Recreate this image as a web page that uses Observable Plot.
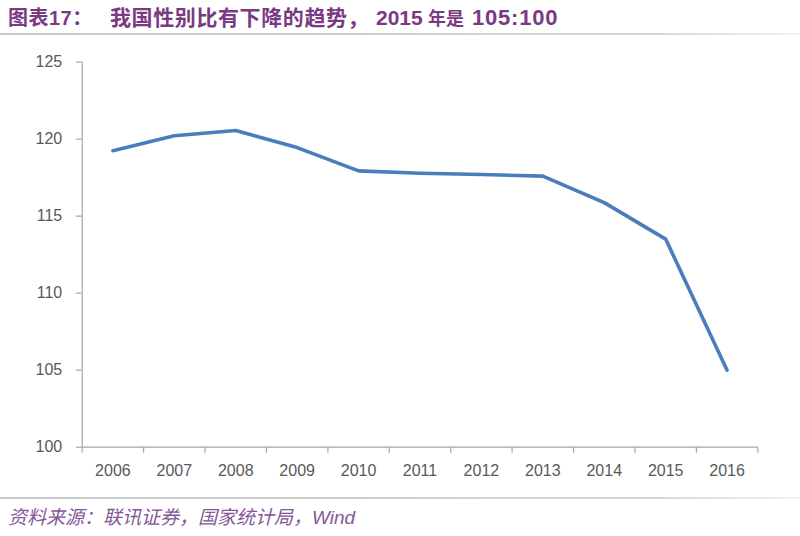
<!DOCTYPE html>
<html>
<head>
<meta charset="utf-8">
<script src="https://cdn.jsdelivr.net/npm/d3@7"></script>
<script src="https://cdn.jsdelivr.net/npm/@observablehq/plot@0.6"></script>
<style>
  html, body { margin: 0; padding: 0; background: #fff; width: 800px; height: 536px; overflow: hidden; }
  #title {
    position: absolute; left: 8px; top: 5px; width: 792px; height: 28px; line-height: 26px;
    font-family: "Liberation Sans", Arial, "Noto Sans CJK SC", sans-serif;
    font-weight: bold; color: #7a3a82; white-space: pre;
  }
  #title span { display: inline-block; vertical-align: baseline; }
  #tline { position: absolute; left: 0; top: 33px; width: 800px; height: 2px; background: linear-gradient(to right, #c8c8c8, #d4d4d4 80%, #f2f2f2); }
  #chart { position: absolute; left: 0; top: 40px; }
  #bline { position: absolute; left: 0; top: 497px; width: 800px; height: 2px; background: linear-gradient(to right, #c8c8c8, #d4d4d4 80%, #f2f2f2); }
  #source {
    position: absolute; left: 8px; top: 502px;
    font-family: "Liberation Sans", Arial, "Noto Sans CJK SC", sans-serif;
    font-style: italic; font-size: 19px; color: #86569a; white-space: pre;
  }
</style>
</head>
<body>
<div id="title"><span style="width:102px;font-size:20px;letter-spacing:0.5px">图表17：</span><span style="width:266px;font-size:21px;letter-spacing:0.6px">我国性别比有下降的趋势，</span><span style="width:52px;font-size:21px">2015</span><span style="width:44px;font-size:18px">年是</span><span style="font-size:22px;letter-spacing:0.8px">105:100</span></div>
<div id="tline"></div>
<div id="chart"></div>
<div id="bline"></div>
<div id="source">资料来源：联讯证券，国家统计局，Wind</div>
<script>
const years = [2006, 2007, 2008, 2009, 2010, 2011, 2012, 2013, 2014, 2015, 2016];
const sexRatio = [119.25, 120.22, 120.56, 119.45, 117.94, 117.78, 117.70, 117.60, 115.88, 113.51, 105.0];
const yTicks = [100, 105, 110, 115, 120, 125];
const xBoundaries = [2005.5, 2006.5, 2007.5, 2008.5, 2009.5, 2010.5, 2011.5, 2012.5, 2013.5, 2014.5, 2015.5, 2016.5];

const data = years.map((y, i) => ({year: y, value: sexRatio[i]}));
const axisColor = "#a6a6a6";
const labelColor = "#595959";

const chart = Plot.plot({
  width: 800,
  height: 455,
  marginTop: 21.6,
  marginBottom: 48.3,
  marginLeft: 81.7,
  marginRight: 42.7,
  style: {fontFamily: "'Liberation Sans', Arial, sans-serif", fontSize: "16px", color: labelColor, background: "#fff"},
  x: {type: "linear", domain: [2005.5, 2016.5], label: null},
  y: {domain: [100, 125], label: null},
  marks: [
    Plot.ruleY([100], {stroke: axisColor, strokeWidth: 1.2}),
    Plot.ruleX([2005.5], {stroke: axisColor, strokeWidth: 1.2}),
    Plot.axisX({ticks: xBoundaries, tickSize: 6, tickFormat: () => "", stroke: axisColor, strokeWidth: 1.2, label: null}),
    Plot.axisX({ticks: years, tickSize: 0, tickPadding: 17, tickFormat: d => String(d), fill: labelColor, fontSize: 16, label: null}),
    Plot.axisY({ticks: yTicks, tickSize: 6, tickPadding: 14, stroke: axisColor, strokeWidth: 1.2, fill: labelColor, fontSize: 16, label: null}),
    Plot.line(data, {x: "year", y: "value", stroke: "#4a7ebb", strokeWidth: 3.6, strokeLinejoin: "round", strokeLinecap: "round"})
  ]
});
document.getElementById("chart").appendChild(chart);
</script>
</body>
</html>
